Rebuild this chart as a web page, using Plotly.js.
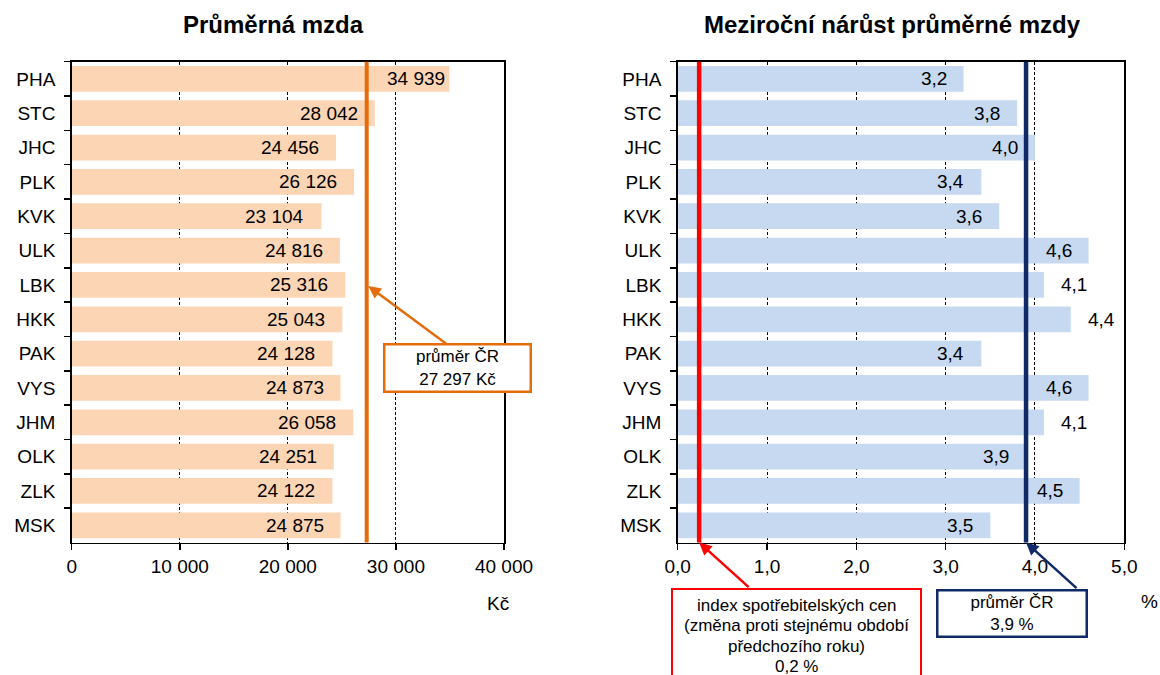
<!DOCTYPE html>
<html>
<head>
<meta charset="utf-8">
<script src="https://cdn.plot.ly/plotly-3.0.1.min.js"></script>
<style>
html,body{margin:0;padding:0;background:#fff;}
#chart{width:1160px;height:675px;}
</style>
</head>
<body>
<div id="chart"></div>
<script>
// ---- data ----
const regions = ['PHA','STC','JHC','PLK','KVK','ULK','LBK','HKK','PAK','VYS','JHM','OLK','ZLK','MSK'];
const wages = [34939, 28042, 24456, 26126, 23104, 24816, 25316, 25043, 24128, 24873, 26058, 24251, 24122, 24875];
const growth = [3.2, 3.8, 4.0, 3.4, 3.6, 4.6, 4.1, 4.4, 3.4, 4.6, 4.1, 3.9, 4.5, 3.5];
const wageAvg = 27297;
const growthAvg = 3.9;
const cpiLine = 0.24;
const titleLeft = 'Průměrná mzda';
const titleRight = 'Meziroční nárůst průměrné mzdy';
const wageTicks = [0, 10000, 20000, 30000, 40000];
const growthTicks = [0, 1, 2, 3, 4, 5];
const wageBoxText = 'průměr ČR<br>27 297 Kč';
const growthBoxText = 'průměr ČR<br>3,9 %';
const cpiBoxLines = ['index spotřebitelských cen', '(změna proti stejnému období', 'předchozího roku)', '0,2 %'];

// ---- style ----
const FONT = 'Liberation Sans, Arial, sans-serif';
const W = 1160, H = 675;
const fmtK = v => String(v).replace(/\B(?=(\d{3})+(?!\d))/g, ' ');
const fmtP = v => v.toFixed(1).replace('.', ',');
const outsideRight = ['LBK','HKK','JHM'];
const leftShift = {PHA: -2};

const yDom = [1 - 542.5 / H, 1 - 61.7 / H];

const traces = [
  {type:'bar', orientation:'h', x: wages, y: regions, xaxis:'x', yaxis:'y',
   marker:{color:'#FCD5B4'}, hoverinfo:'skip', showlegend:false},
  {type:'bar', orientation:'h', x: growth, y: regions, xaxis:'x2', yaxis:'y2',
   marker:{color:'#C6D9F1'}, hoverinfo:'skip', showlegend:false}
];

const axisCommon = {
  showline:true, linecolor:'#000', linewidth:1.5, mirror:true,
  ticks:'outside', ticklen:6, tickcolor:'#000', tickwidth:1.5,
  tickfont:{family:FONT, size:19, color:'#000'}, automargin:false, zeroline:false,
  fixedrange:true
};

const annotations = [];
// titles
annotations.push({xref:'paper', yref:'paper', x:273/W, y:1-24/H, text:'<b>'+titleLeft+'</b>',
  showarrow:false, xanchor:'center', yanchor:'middle', font:{family:FONT, size:24, color:'#000'}});
annotations.push({xref:'paper', yref:'paper', x:892/W, y:1-24/H, text:'<b>'+titleRight+'</b>',
  showarrow:false, xanchor:'center', yanchor:'middle', font:{family:FONT, size:24, color:'#000'}});
// axis unit labels
annotations.push({xref:'paper', yref:'paper', x:498/W, y:1-603/H, text:'Kč', showarrow:false,
  xanchor:'center', yanchor:'middle', font:{family:FONT, size:19, color:'#000'}});
annotations.push({xref:'paper', yref:'paper', x:1149/W, y:1-601/H, text:'%', showarrow:false,
  xanchor:'center', yanchor:'middle', font:{family:FONT, size:19, color:'#000'}});
// value labels
regions.forEach((r, i) => {
  annotations.push({xref:'x', yref:'y', x: wages[i], y: r, text: fmtK(wages[i]), showarrow:false,
    xanchor:'right', yanchor:'middle', xshift: (leftShift[r] !== undefined ? leftShift[r] : -15),
    font:{family:FONT, size:19, color:'#000'}});
  const out = outsideRight.includes(r);
  annotations.push({xref:'x2', yref:'y2', x: growth[i], y: r, text: fmtP(growth[i]), showarrow:false,
    xanchor: out ? 'left' : 'right', yanchor:'middle', xshift: out ? 15 : -15,
    font:{family:FONT, size:19, color:'#000'}});
});
// arrows
annotations.push({xref:'x', yref:'y', x: wageAvg, y: 'LBK', text:'', showarrow:true,
  ax: 81, ay: 60, arrowcolor:'#E46C0A', arrowwidth:2.5, arrowhead:2, arrowsize:1, standoff:2});
annotations.push({xref:'x2', yref:'y2 domain', x: growthAvg, y: 0, text:'', showarrow:true,
  ax: 52, ay: 47, arrowcolor:'#0F2A66', arrowwidth:2.5, arrowhead:2, arrowsize:1, standoff:0});
annotations.push({xref:'x2', yref:'y2 domain', x: cpiLine, y: 0, text:'', showarrow:true,
  ax: 51, ay: 46, arrowcolor:'#FF0000', arrowwidth:2.5, arrowhead:2, arrowsize:1, standoff:0});
// boxes
annotations.push({xref:'paper', yref:'paper', x:457/W, y:1-368/H, text: wageBoxText, showarrow:false,
  xanchor:'center', yanchor:'middle', width:144, height:45, borderpad:0,
  bordercolor:'#E46C0A', borderwidth:2.5, bgcolor:'#fff', font:{family:FONT, size:17, color:'#000'}});
annotations.push({xref:'paper', yref:'paper', x:1012/W, y:1-613.8/H, text: growthBoxText, showarrow:false,
  xanchor:'center', yanchor:'middle', width:147, height:44, borderpad:0,
  bordercolor:'#0F2A66', borderwidth:2.5, bgcolor:'#fff', font:{family:FONT, size:17, color:'#000'}});
const cpiLineY = [605, 625.5, 646, 666];
cpiBoxLines.forEach((t, i) => {
  annotations.push({xref:'paper', yref:'paper', x:796.5/W, y:1-cpiLineY[i]/H, text: t, showarrow:false,
    xanchor:'center', yanchor:'middle', font:{family:FONT, size:17, color:'#000'}});
});

const shapes = [
  {type:'line', xref:'x', yref:'y domain', x0:wageAvg, x1:wageAvg, y0:0, y1:1,
   line:{color:'#E46C0A', width:4}, layer:'above'},
  {type:'line', xref:'x2', yref:'y2 domain', x0:growthAvg, x1:growthAvg, y0:0, y1:1,
   line:{color:'#0F2A66', width:4.5}, layer:'above'},
  {type:'line', xref:'x2', yref:'y2 domain', x0:cpiLine, x1:cpiLine, y0:0, y1:1,
   line:{color:'#FF0000', width:4.5}, layer:'above'},
  {type:'rect', xref:'paper', yref:'paper', x0:672/W, x1:921/W, y0:-0.05, y1:1-589/H,
   line:{color:'#FF0000', width:2}, fillcolor:'#fff', layer:'above'}
];

const layout = {
  width: W, height: H,
  margin:{l:0, r:0, t:0, b:0},
  paper_bgcolor:'#fff', plot_bgcolor:'#fff',
  separators:', ',
  bargap:0.25,
  showlegend:false,
  font:{family:FONT, size:19, color:'#000'},
  xaxis: Object.assign({}, axisCommon, {
    domain:[71.7/W, 504/W], anchor:'y', range:[0, 40000],
    tickvals: wageTicks, ticktext: wageTicks.map(fmtK),
    showgrid:true, gridcolor:'#000', gridwidth:1, griddash:'3px,2px'
  }),
  yaxis: Object.assign({}, axisCommon, {
    domain: yDom, anchor:'x', type:'category', categoryorder:'array', categoryarray: regions,
    autorange:'reversed', tickson:'boundaries', showgrid:false, ticklabelstandoff:11
  }),
  xaxis2: Object.assign({}, axisCommon, {
    domain:[677.7/W, 1124.3/W], anchor:'y2', range:[0, 5],
    tickvals: growthTicks, ticktext: growthTicks.map(v => fmtP(v)),
    showgrid:true, gridcolor:'#000', gridwidth:1, griddash:'3px,2px'
  }),
  yaxis2: Object.assign({}, axisCommon, {
    domain: yDom, anchor:'x2', type:'category', categoryorder:'array', categoryarray: regions,
    autorange:'reversed', tickson:'boundaries', showgrid:false, ticklabelstandoff:11
  }),
  annotations: annotations,
  shapes: shapes
};

Plotly.newPlot('chart', traces, layout, {staticPlot:true, displayModeBar:false});
</script>
</body>
</html>
